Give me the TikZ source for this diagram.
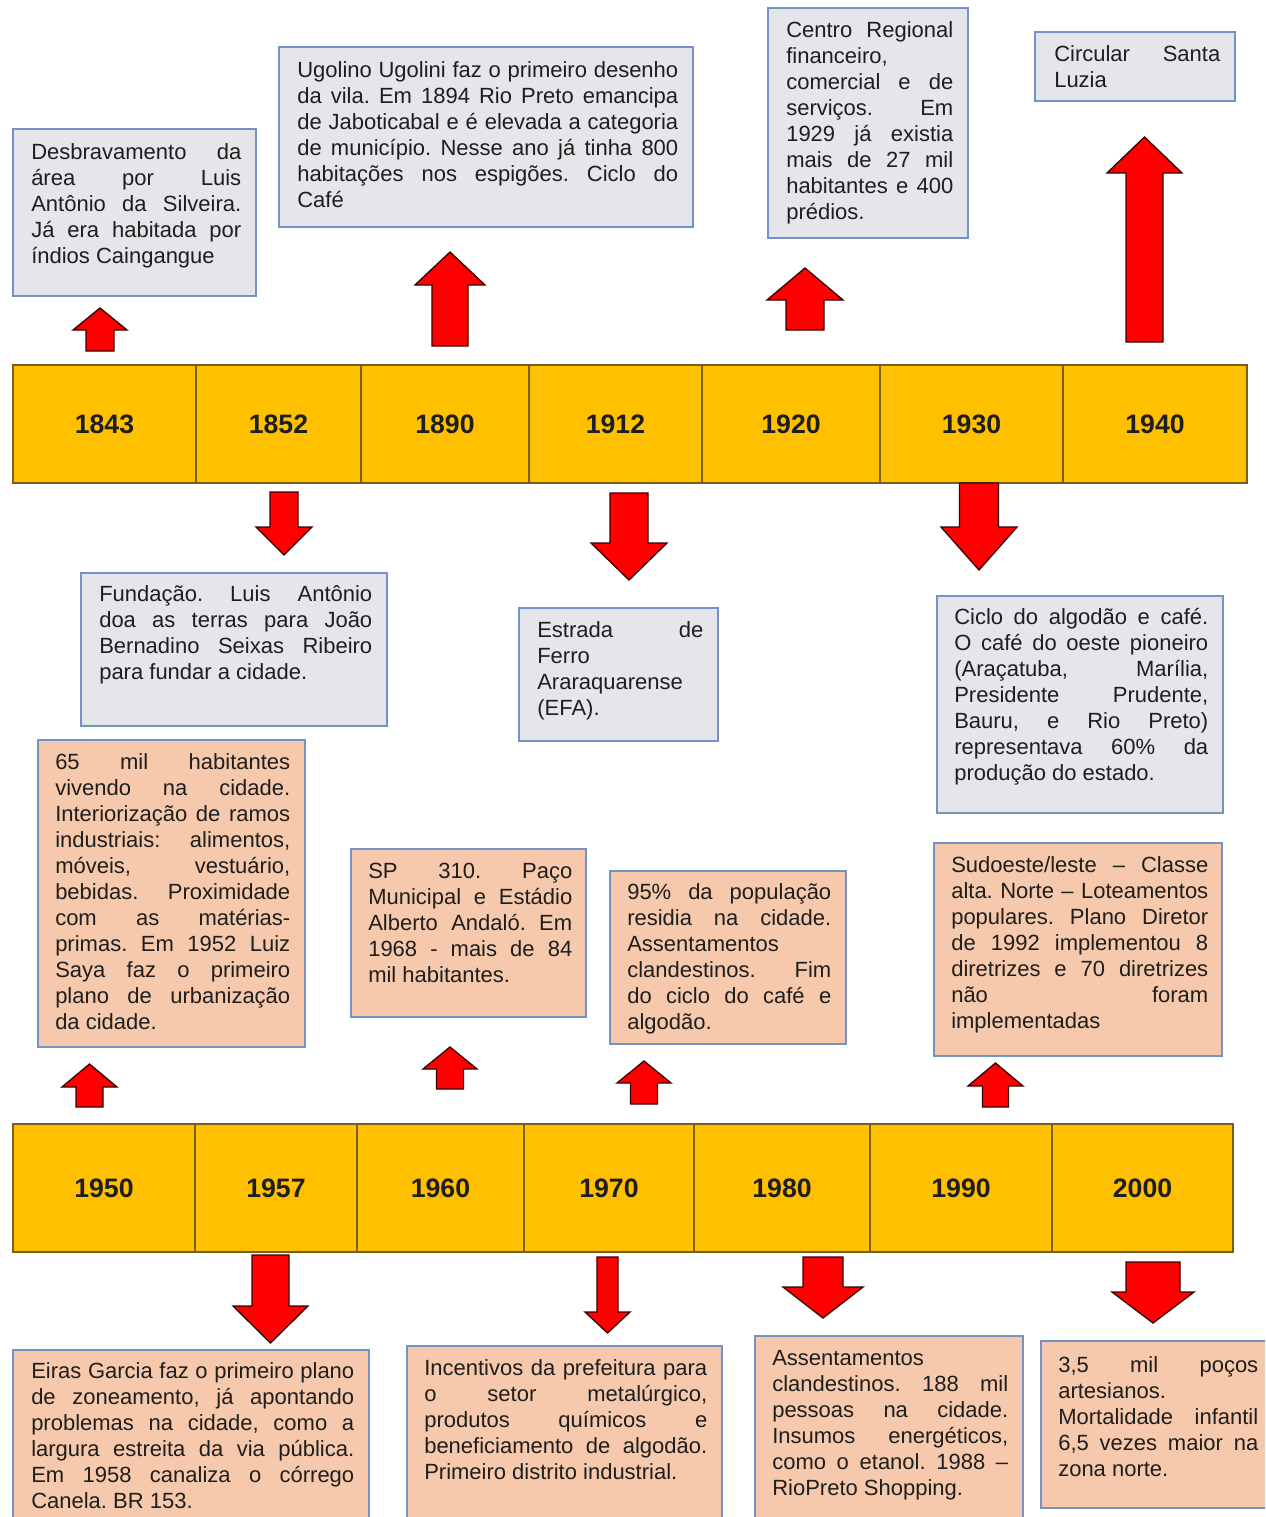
\documentclass[tikz,border=0pt]{standalone}
\usepackage{fontspec}
\setmainfont{Liberation Sans}
\definecolor{greyfill}{HTML}{E5E6EA}
\definecolor{peachfill}{HTML}{F6C9AC}
\definecolor{boxborder}{HTML}{7393C6}
\definecolor{gold}{HTML}{FFC000}
\definecolor{cellborder}{HTML}{7A5F1A}
\definecolor{arrred}{HTML}{FF0000}
\definecolor{arrborder}{HTML}{3A0000}
\definecolor{textcol}{HTML}{1E1E1E}
\tolerance=10000
\pretolerance=-1
\hyphenpenalty=10000
\exhyphenpenalty=10000
\hbadness=10000
\frenchspacing
\tikzset{
  gbox/.style={draw=boxborder, fill=greyfill, line width=1pt},
  pbox/.style={draw=boxborder, fill=peachfill, line width=1pt},
  txt/.style={anchor=base west, inner sep=0pt, align=justify, text=textcol,
    font=\fontsize{16.5pt}{19.5pt}\selectfont\frenchspacing},
  cellst/.style={draw=cellborder, fill=gold, line width=0.8pt},
  yearst/.style={font=\fontsize{20pt}{24pt}\selectfont\bfseries, text=textcol, inner sep=0pt},
  arr/.style={fill=arrred, draw=arrborder, line width=1pt, line join=miter},
}
\newcommand\blockarr[6]{% cx, tip y, head base y, end y, half head, half shaft
  \draw[arr] (#1,#2) -- ({#1+#5},#3) -- ({#1+#6},#3) -- ({#1+#6},#4)
    -- ({#1-#6},#4) -- ({#1-#6},#3) -- ({#1-#5},#3) -- cycle;}
\newcommand\yearcell[6]{% name x1 x2 y1 y2 label
  \draw[cellst] (#2,#4) rectangle (#3,#5);
  \node[yearst] (#1) at ({(#2+#3)/2},{(#4+#5)/2}) {#6};}
\begin{document}
\begin{tikzpicture}[x=0.75pt,y=-0.75pt]
\useasboundingbox (0,0) rectangle (1265,1517);
\clip (0,0) rectangle (1265,1517);
\fill[white] (0,0) rectangle (1265,1517);

% ---------- top boxes ----------
\draw[gbox] (13,129) rectangle (256,296);
\node[txt, text width=157.5pt] (b1843) at (31,159) {Desbravamento da\linebreak
área por Luis\linebreak
Antônio da Silveira.\linebreak
Já era habitada por\linebreak
índios Caingangue};

\draw[gbox] (279,47) rectangle (693,227);
\node[txt, text width=285.75pt] (b1890) at (297,77) {Ugolino Ugolini faz o primeiro desenho\linebreak
da vila. Em 1894 Rio Preto emancipa\linebreak
de Jaboticabal e é elevada a categoria\linebreak
de município. Nesse ano já tinha 800\linebreak
habitações nos espigões. Ciclo do\linebreak
Café};

\draw[gbox] (768,8) rectangle (968,238);
\node[txt, text width=125.25pt] (b1920) at (786,37) {Centro Regional\linebreak
financeiro,\linebreak
comercial e de\linebreak
serviços. Em\linebreak
1929 já existia\linebreak
mais de 27 mil\linebreak
habitantes e 400\linebreak
prédios.};

\draw[gbox] (1035,32) rectangle (1235,101);
\node[txt, text width=124.5pt] (b1940) at (1054,61) {Circular Santa\linebreak
Luzia};

% ---------- top arrows ----------
\blockarr{100}{308}{330}{351}{27}{14}
\blockarr{450}{252}{285}{346}{35}{18}
\blockarr{805}{268}{300}{330}{38}{19}
\blockarr{1144.5}{137}{173}{342}{37.5}{18.5}

% ---------- timeline 1 ----------
\yearcell{y1843}{13}{196}{365}{483}{1843}
\yearcell{y1852}{196}{361}{365}{483}{1852}
\yearcell{y1890}{361}{529}{365}{483}{1890}
\yearcell{y1912}{529}{702}{365}{483}{1912}
\yearcell{y1920}{702}{880}{365}{483}{1920}
\yearcell{y1930}{880}{1063}{365}{483}{1930}
\yearcell{y1940}{1063}{1247}{365}{483}{1940}

% ---------- down arrows 1 ----------
\blockarr{284}{555}{527}{492}{28}{14}
\blockarr{629}{580}{543}{493}{38}{19}
\blockarr{979}{570}{527}{483}{38}{19.5}

% ---------- middle grey boxes ----------
\draw[gbox] (81,573) rectangle (387,726);
\node[txt, text width=204.75pt] (b1852) at (99,601) {Fundação. Luis Antônio\linebreak
doa as terras para João\linebreak
Bernadino Seixas Ribeiro\linebreak
para fundar a cidade.};

\draw[gbox] (519,608) rectangle (718,741);
\node[txt, text width=124.5pt] (b1912) at (537,637) {Estrada de\linebreak
Ferro\linebreak
Araraquarense\linebreak
(EFA).};

\draw[gbox] (937,596) rectangle (1223,813);
\node[txt, text width=190.5pt] (b1930) at (954,624) {Ciclo do algodão e café.\linebreak
O café do oeste pioneiro\linebreak
(Araçatuba, Marília,\linebreak
Presidente Prudente,\linebreak
Bauru, e Rio Preto)\linebreak
representava 60\% da\linebreak
produção do estado.};

% ---------- peach boxes ----------
\draw[pbox] (38,740) rectangle (305,1047);
\node[txt, text width=176.25pt] (b1950) at (55,769) {65 mil habitantes\linebreak
vivendo na cidade.\linebreak
Interiorização de ramos\linebreak
industriais: alimentos,\linebreak
móveis, vestuário,\linebreak
bebidas. Proximidade\linebreak
com as matérias-\linebreak
primas. Em 1952 Luiz\linebreak
Saya faz o primeiro\linebreak
plano de urbanização\linebreak
da cidade.};

\draw[pbox] (351,849) rectangle (586,1017);
\node[txt, text width=153pt] (b1960) at (368,878) {SP 310. Paço\linebreak
Municipal e Estádio\linebreak
Alberto Andaló. Em\linebreak
1968 - mais de 84\linebreak
mil habitantes.};

\draw[pbox] (610,871) rectangle (846,1044);
\node[txt, text width=153pt] (b1970) at (627,899) {95\% da população\linebreak
residia na cidade.\linebreak
Assentamentos\linebreak
clandestinos. Fim\linebreak
do ciclo do café e\linebreak
algodão.};

\draw[pbox] (934,843) rectangle (1222,1056);
\node[txt, text width=192.75pt] (b1990) at (951,872) {Sudoeste/leste – Classe\linebreak
alta. Norte – Loteamentos\linebreak
populares. Plano Diretor\linebreak
de 1992 implementou 8\linebreak
diretrizes e 70 diretrizes\linebreak
não foram\linebreak
implementadas};

% ---------- up arrows 2 ----------
\blockarr{89.5}{1064}{1087}{1107}{27.5}{13.5}
\blockarr{450}{1047}{1069}{1089}{27}{13.5}
\blockarr{644}{1061}{1083}{1104}{27}{13.5}
\blockarr{995.5}{1063}{1086}{1107}{27.5}{13}

% ---------- timeline 2 ----------
\yearcell{y1950}{13}{195}{1124}{1252}{1950}
\yearcell{y1957}{195}{357}{1124}{1252}{1957}
\yearcell{y1960}{357}{524}{1124}{1252}{1960}
\yearcell{y1970}{524}{694}{1124}{1252}{1970}
\yearcell{y1980}{694}{870}{1124}{1252}{1980}
\yearcell{y1990}{870}{1052}{1124}{1252}{1990}
\yearcell{y2000}{1052}{1233}{1124}{1252}{2000}

% ---------- down arrows 2 ----------
\blockarr{270.5}{1343}{1306}{1255}{37.5}{18.5}
\blockarr{607.5}{1333}{1312}{1257}{22.5}{10.5}
\blockarr{823}{1318}{1287}{1257}{40}{20}
\blockarr{1153}{1323}{1292}{1262}{41}{27}

% ---------- bottom boxes ----------
\draw[pbox] (13,1350) rectangle (369,1540);
\node[txt, text width=242.25pt] (b1957) at (31,1378) {Eiras Garcia faz o primeiro plano\linebreak
de zoneamento, já apontando\linebreak
problemas na cidade, como a\linebreak
largura estreita da via pública.\linebreak
Em 1958 canaliza o córrego\linebreak
Canela. BR 153.};

\draw[pbox] (407,1346) rectangle (722,1540);
\node[txt, text width=212.25pt] (b1970b) at (424,1375) {Incentivos da prefeitura para\linebreak
o setor metalúrgico,\linebreak
produtos químicos e\linebreak
beneficiamento de algodão.\linebreak
Primeiro distrito industrial.};

\draw[pbox] (755,1336) rectangle (1023,1540);
\node[txt, text width=177pt] (b1980) at (772,1365) {Assentamentos\linebreak
clandestinos. 188 mil\linebreak
pessoas na cidade.\linebreak
Insumos energéticos,\linebreak
como o etanol. 1988 –\linebreak
RioPreto Shopping.};

\draw[pbox] (1041,1341) rectangle (1290,1508);
\node[txt, text width=150pt] (b2000) at (1058,1372) {3,5 mil poços\linebreak
artesianos.\linebreak
Mortalidade infantil\linebreak
6,5 vezes maior na\linebreak
zona norte.};
\end{tikzpicture}
\end{document}
